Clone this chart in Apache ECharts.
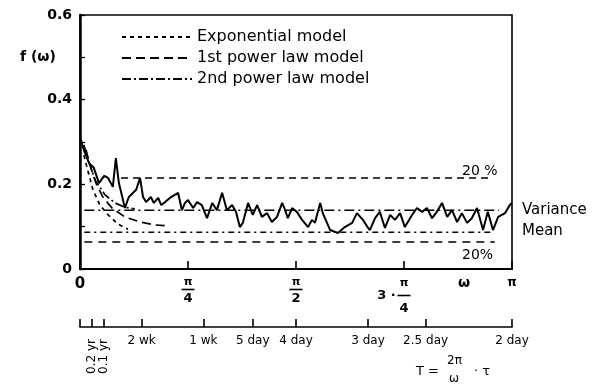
<!DOCTYPE html>
<html><head><meta charset="utf-8">
<script src="https://cdn.jsdelivr.net/npm/echarts@6/dist/echarts.min.js"></script>
<style>html,body{margin:0;padding:0;background:#fff}#c{width:597px;height:384px}</style>
</head><body><div id="c"></div>
<script>
// Frequency is stored as a fraction of π (0 … 1 ⇒ ω = 0 … π)
const specW = [0,0.009,0.021,0.032,0.044,0.056,0.065,0.076,0.083,0.090,0.104,0.113,0.130,0.139,0.146,0.153,0.164,0.171,0.181,0.188,0.197,0.208,0.227,0.236,0.243,0.250,0.262,0.271,0.282,0.294,0.306,0.317,0.329,0.340,0.352,0.361,0.370,0.377,0.389,0.400,0.410,0.421,0.433,0.444,0.456,0.468,0.475,0.481,0.491,0.502,0.514,0.528,0.537,0.544,0.556,0.562,0.579,0.597,0.613,0.630,0.641,0.655,0.667,0.671,0.683,0.694,0.706,0.718,0.729,0.741,0.752,0.769,0.780,0.792,0.803,0.815,0.826,0.838,0.850,0.861,0.873,0.884,0.896,0.907,0.919,0.933,0.944,0.956,0.968,0.984,0.995,1.0];
const specF = [0.312,0.281,0.250,0.239,0.203,0.220,0.215,0.194,0.262,0.203,0.144,0.170,0.187,0.215,0.170,0.158,0.170,0.156,0.168,0.151,0.158,0.168,0.180,0.139,0.156,0.163,0.144,0.158,0.151,0.120,0.156,0.139,0.180,0.139,0.151,0.135,0.099,0.109,0.156,0.128,0.151,0.123,0.132,0.111,0.123,0.156,0.139,0.120,0.144,0.135,0.116,0.099,0.116,0.109,0.156,0.132,0.092,0.085,0.099,0.109,0.132,0.116,0.097,0.092,0.120,0.135,0.097,0.128,0.116,0.132,0.099,0.128,0.144,0.135,0.144,0.120,0.135,0.156,0.123,0.139,0.111,0.132,0.109,0.120,0.144,0.092,0.135,0.092,0.123,0.132,0.151,0.156];

// Model spectra (low-frequency part only)
const expW  = [0.009,0.019,0.030,0.046,0.065,0.088,0.111];
const expF  = [0.269,0.229,0.187,0.151,0.128,0.106,0.094];
const pow1W = [0.014,0.023,0.037,0.053,0.074,0.104,0.139,0.174,0.201];
const pow1F = [0.281,0.246,0.203,0.170,0.144,0.123,0.111,0.104,0.102];
const pow2W = [0.009,0.019,0.035,0.058,0.081,0.104,0.127];
const pow2F = [0.293,0.258,0.210,0.175,0.156,0.146,0.142];

// Reference levels and their horizontal extents
const upper20Level = 0.215, upper20Span = [0.095, 0.950];
const varianceLevel = 0.139, varianceSpan = [0.010, 0.970];
const meanLevel = 0.087,     meanSpan = [0.010, 0.950];
const lower20Level = 0.064,  lower20Span = [0.010, 0.960];

// Period scale: ω = 2π / T (T in days)
const periodDays   = [73, 36.5, 14, 7, 5, 4, 3, 2.5, 2];
const periodLabels = ['0.2 yr', '0.1 yr', '2 wk', '1 wk', '5 day', '4 day', '3 day', '2.5 day', '2 day'];
const yTickLabels = {0: '0', 0.2: '0.2', 0.4: '0.4', 0.6: '0.6'};

const INK = '#000';
const FONT = 'DejaVu Sans';
const zip = (xs, ys) => xs.map((x, i) => [x, ys[i]]);
const flat = (span, v) => [[span[0], v], [span[1], v]];
const periodPos = periodDays.map(T => 2 / T);
const labelFor = v => {
  let best = 0;
  periodPos.forEach((p, i) => { if (Math.abs(p - v) < Math.abs(periodPos[best] - v)) best = i; });
  return periodLabels[best];
};

const chart = echarts.init(document.getElementById('c'), null, {renderer: 'canvas'});
const lineSeries = (name, data, type, width) => ({
  name, type: 'line', data, symbol: 'none', silent: true,
  lineStyle: {color: INK, width: width || 1.6, type}, itemStyle: {color: INK}
});
const bar = {width: 13, height: 1.6, backgroundColor: INK, lineHeight: 5, align: 'center'};

chart.setOption({
  animation: false,
  backgroundColor: '#fff',
  grid: {left: 80, right: 85, top: 15, bottom: 115, show: true, borderColor: INK, borderWidth: 1.6, backgroundColor: 'transparent'},
  legend: {
    data: ['Exponential model', '1st power law model', '2nd power law model'],
    orient: 'vertical', left: 116, top: 24, itemWidth: 70, itemHeight: 10, itemGap: 5,
    itemStyle: {opacity: 0},
    textStyle: {fontSize: 16, fontFamily: FONT, color: INK}
  },
  xAxis: [{
    type: 'value', min: 0, max: 1, interval: 0.25,
    axisLine: {lineStyle: {color: INK, width: 2}},
    axisTick: {inside: true, length: 8, lineStyle: {color: INK, width: 1.6}},
    splitLine: {show: false},
    axisLabel: {
      margin: 8, color: INK, fontFamily: FONT, showMinLabel: true, showMaxLabel: true,
      formatter: v => {
        if (v === 0) return '{z|0}';
        if (Math.abs(v - 0.25) < 1e-6) return '{n|π}\n{b|}\n{d|4}';
        if (Math.abs(v - 0.5) < 1e-6) return '{n|π}\n{b|}\n{d|2}';
        if (Math.abs(v - 0.75) < 1e-6) return '{sp|}{n|π}{sp|}\n{t|3 ·}{b|}{sp|}\n{sp|}{d|4}{sp|}';
        return '{p|π}';
      },
      rich: {
        z: {fontSize: 15, fontWeight: 'bold', color: INK, fontFamily: FONT},
        n: {fontSize: 11, fontWeight: 'bold', lineHeight: 10, color: INK, fontFamily: FONT, align: 'center', width: 13},
        b: bar,
        d: {fontSize: 13, fontWeight: 'bold', lineHeight: 14, color: INK, fontFamily: FONT, align: 'center', width: 13},
        t: {fontSize: 13, fontWeight: 'bold', width: 22, color: INK, fontFamily: FONT},
        sp: {width: 22},
        p: {fontSize: 12, fontWeight: 'bold', color: INK, fontFamily: FONT, padding: [0, 0, 8, 0]}
      }
    }
  }, {
    type: 'value', min: 0, max: 1, position: 'bottom', offset: 58,
    axisLine: {lineStyle: {color: INK, width: 1.6}},
    axisTick: {inside: true, length: 8, customValues: [0].concat(periodPos), lineStyle: {color: INK, width: 1.6}},
    splitLine: {show: false},
    axisLabel: {
      customValues: periodPos.slice(2), margin: 8, fontSize: 12, color: INK, fontFamily: FONT,
      formatter: v => labelFor(v)
    }
  }, {
    type: 'value', min: 0, max: 1, position: 'bottom', offset: 58,
    axisLine: {show: false}, axisTick: {show: false}, splitLine: {show: false},
    axisLabel: {
      customValues: periodPos.slice(0, 2), rotate: 90, margin: 12, fontSize: 12, color: INK, fontFamily: FONT,
      formatter: v => labelFor(v)
    }
  }],
  yAxis: {
    type: 'value', min: 0, max: 0.6, interval: 0.1,
    axisLine: {show: true, lineStyle: {color: INK, width: 2.5}},
    axisTick: {inside: true, length: 5, lineStyle: {color: INK, width: 1.3}},
    splitLine: {show: false},
    axisLabel: {
      margin: 8, fontSize: 14, fontWeight: 'bold', color: INK, fontFamily: FONT,
      formatter: v => { const k = Math.round(v * 10) / 10; return yTickLabels[k] !== undefined ? yTickLabels[k] : ''; }
    }
  },
  series: [
    lineSeries('spectrum', zip(specW, specF), 'solid', 2),
    lineSeries('Exponential model', zip(expW, expF), [4, 4], 1.7),
    lineSeries('1st power law model', zip(pow1W, pow1F), [9, 5], 1.7),
    lineSeries('2nd power law model', zip(pow2W, pow2F), [9, 3, 2, 3], 1.7),
    lineSeries('upper 20%', flat(upper20Span, upper20Level), [7, 5], 1.5),
    lineSeries('variance', flat(varianceSpan, varianceLevel), [10, 4, 2, 4], 1.5),
    lineSeries('mean', flat(meanSpan, meanLevel), [6, 4, 2, 4], 1.5),
    lineSeries('lower 20%', flat(lower20Span, lower20Level), [8, 6], 1.5)
  ],
  graphic: [
    {type: 'text', left: 20, top: 50, style: {text: 'f (ω)', fontSize: 14, fontWeight: 'bold', fill: INK, fontFamily: FONT}},
    {type: 'text', left: 462, top: 164, style: {text: '20 %', fontSize: 14, fill: INK, fontFamily: FONT}},
    {type: 'text', left: 462, top: 248, style: {text: '20%', fontSize: 14, fill: INK, fontFamily: FONT}},
    {type: 'text', left: 522, top: 203, style: {text: 'Variance', fontSize: 15, fill: INK, fontFamily: FONT}},
    {type: 'text', left: 522, top: 224, style: {text: 'Mean', fontSize: 15, fill: INK, fontFamily: FONT}},
    {type: 'text', left: 458, top: 276, style: {text: 'ω', fontSize: 14, fontWeight: 'bold', fill: INK, fontFamily: FONT}},
    {type: 'text', left: 416, top: 365, style: {text: 'T =', fontSize: 13, fill: INK, fontFamily: FONT}},
    {type: 'text', left: 447, top: 355, style: {text: '2π', fontSize: 12, fill: INK, fontFamily: FONT}},
    {type: 'text', left: 449, top: 373, style: {text: 'ω', fontSize: 12, fill: INK, fontFamily: FONT}},
    {type: 'text', left: 474, top: 365, style: {text: '· τ', fontSize: 13, fill: INK, fontFamily: FONT}}
  ]
});
</script></body></html>
